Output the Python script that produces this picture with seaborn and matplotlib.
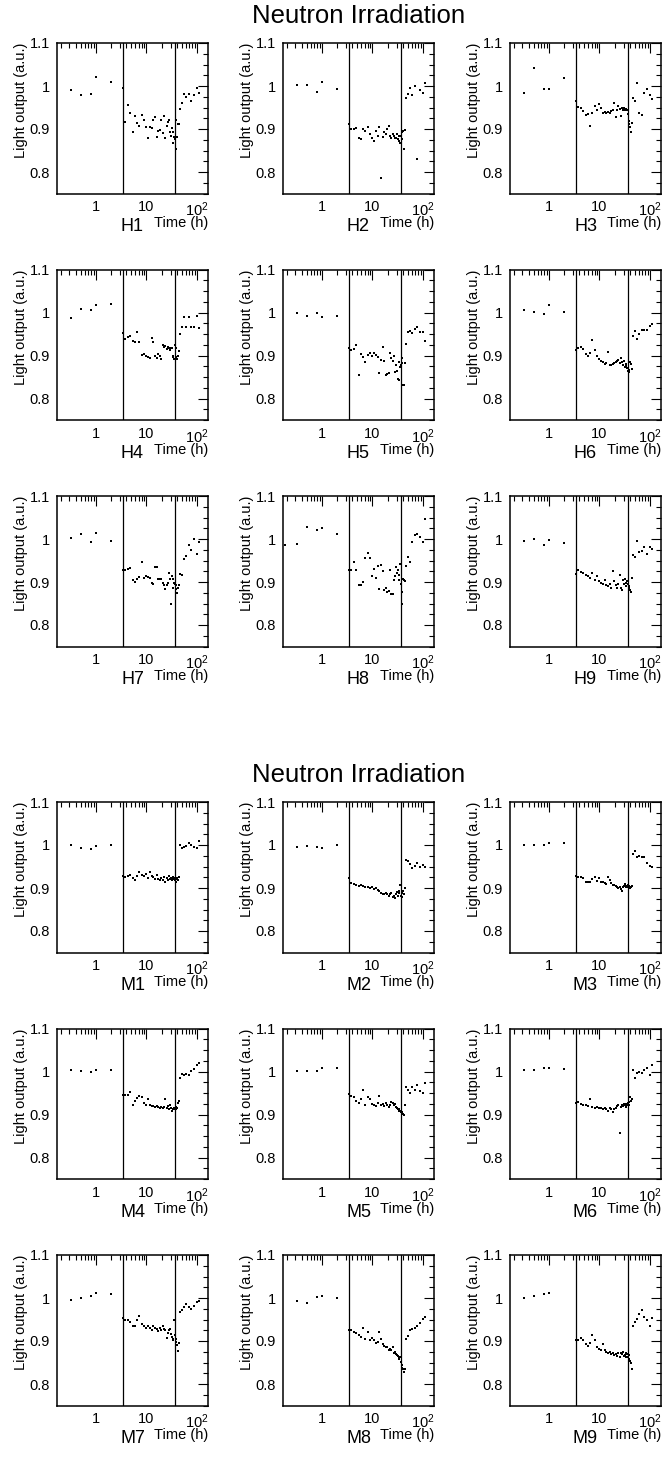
import numpy as np
import seaborn as sns
import matplotlib.pyplot as plt
from matplotlib.ticker import FixedLocator, LogLocator, MultipleLocator, NullFormatter

# ─────────────────────────────────────────
# 1. Data (light output vs time, normalised)
# ─────────────────────────────────────────
nan = np.nan

# measurement times (h): before, during, right after and long after irradiation
t_pre = [0.19, 0.32, 0.5, 0.8, 1.0, 2.0]
t_irr = [3.4, 3.8, 4.3, 4.8, 5.3, 5.9, 6.5, 7.2, 8.0, 8.8, 9.7, 10.6, 11.6, 12.6,
         13.7, 14.8, 16.0, 17.2, 18.5, 19.8, 21.1, 22.4, 23.7, 25.0, 26.3, 27.6,
         28.9, 30.2, 31.5, 32.8, 34.0, 35.3]
t_tail = [36.5, 37.7, 39.0, 40.5, 42.0, 43.5]
t_rec = [46, 50, 55, 61, 68, 76, 86, 98, 110]
hours = t_pre + t_irr + t_tail + t_rec

# start / end of irradiation (h)
irr_marks = [3.4, 36.0]

h1 = [nan, 0.99, 0.978, 0.982, 1.02, 1.01,
      0.995, 0.917, 0.955, 0.938, 0.893, 0.93, 0.913, 0.908, 0.933, 0.922, 0.905, 0.879, 0.905, 0.903, 0.921, 0.928,
      0.881, 0.895, 0.898, 0.921, 0.89, 0.931, 0.878, 0.907, 0.916, 0.922, 0.892, 0.884, 0.903, 0.892, 0.868, 0.882,
      0.876, 0.921, 0.853, 0.882, 0.911, 0.911,
      0.947, 0.961, 0.982, 0.975, 0.982, 0.966, 0.98, 0.995, 0.984]
h2 = [nan, 1.0015, 1.003, 0.986, 1.01, 0.992,
      0.912, 0.901, 0.9, 0.902, 0.878, 0.876, 0.899, 0.895, 0.905, 0.888, 0.88, 0.872, 0.895, 0.884, 0.905, 0.785,
      0.882, 0.893, 0.888, 0.899, 0.907, 0.884, 0.88, 0.888, 0.884, 0.878, 0.88, 0.888, 0.876, 0.872, 0.884, 0.868,
      0.884, 0.892, 0.876, 0.895, 0.853, 0.898,
      0.971, 0.982, 0.995, 0.98, 0.999, 0.83, 0.99, 0.984, 1.007]
h3 = [nan, 0.984, 1.042, 0.993, 0.993, 1.018,
      0.965, 0.951, 0.948, 0.942, 0.932, 0.934, 0.907, 0.938, 0.953, 0.945, 0.957, 0.949, 0.938, 0.939, 0.938, 0.939,
      0.938, 0.942, 0.944, 0.961, 0.928, 0.945, 0.953, 0.947, 0.93, 0.949, 0.945, 0.949, 0.945, 0.947, 0.944, 0.945,
      0.934, 0.918, 0.911, 0.905, 0.894, 0.915,
      0.972, 0.965, 1.008, 0.938, 0.932, 0.984, 0.993, 0.978, 0.97]
h4 = [nan, 0.987, 1.009, 1.006, 1.017, 1.02,
      0.952, 0.938, 0.944, 0.946, 0.934, 0.931, 0.954, 0.931, 0.902, 0.904, 0.9, 0.897, 0.894, 0.94, 0.932, 0.898,
      0.894, 0.904, 0.9, 0.893, 0.924, 0.92, 0.923, 0.915, 0.92, 0.917, 0.913, 0.918, 0.917, 0.897, 0.9, 0.893,
      0.924, 0.897, 0.917, 0.893, 0.9, 0.91,
      0.95, 0.966, 0.989, 0.966, 0.99, 0.967, 0.966, 0.991, 0.965]
h5 = [nan, 0.998, 0.992, 0.998, 0.99, 0.992,
      0.917, 0.913, 0.915, 0.925, 0.854, 0.904, 0.896, 0.885, 0.902, 0.906, 0.9, 0.906, 0.902, 0.896, 0.86, 0.89,
      0.919, 0.888, 0.855, 0.858, 0.859, 0.906, 0.894, 0.887, 0.9, 0.862, 0.878, 0.865, 0.846, 0.885, 0.844, 0.873,
      0.877, 0.895, 0.882, 0.831, 0.832, 0.882,
      0.927, 0.954, 0.958, 0.952, 0.961, 0.967, 0.954, 0.954, 0.933]
h6 = [nan, 1.006, 1.002, 0.996, 1.017, 1.002,
      0.912, 0.917, 0.919, 0.915, 0.904, 0.9, 0.905, 0.936, 0.912, 0.898, 0.892, 0.887, 0.885, 0.881, 0.882, 0.909,
      0.878, 0.879, 0.881, 0.882, 0.885, 0.887, 0.89, 0.882, 0.894, 0.885, 0.877, 0.888, 0.873, 0.881, 0.875, 0.872,
      0.864, 0.867, 0.862, 0.885, 0.881, 0.869,
      0.946, 0.958, 0.938, 0.95, 0.959, 0.959, 0.96, 0.969, 0.973]
h7 = [nan, 1.002, 1.012, 0.994, 1.015, 0.996,
      0.929, 0.929, 0.93, 0.933, 0.904, 0.9, 0.906, 0.912, 0.947, 0.909, 0.913, 0.912, 0.91, 0.898, 0.896, 0.935,
      0.934, 0.907, 0.906, 0.907, 0.898, 0.892, 0.883, 0.893, 0.898, 0.92, 0.907, 0.848, 0.915, 0.886, 0.906, 0.898,
      0.896, 0.892, 0.883, 0.875, 0.886, 0.892,
      0.919, 0.916, 0.954, 0.96, 0.987, 0.975, 1.0, 0.964, 0.993]
h8 = [0.985, 0.988, 1.029, 1.021, 1.025, 1.012,
      0.928, 0.928, 0.946, 0.927, 0.892, 0.892, 0.9, 0.956, 0.967, 0.956, 0.913, 0.931, 0.909, 0.938, 0.884, 0.94,
      0.925, 0.881, 0.885, 0.877, 0.878, 0.927, 0.873, 0.871, 0.904, 0.913, 0.936, 0.921, 0.928, 0.917, 0.904, 0.942,
      0.896, 0.85, 0.877, 0.908, 0.904, 0.902,
      0.938, 0.958, 0.946, 0.992, 1.01, 1.012, 1.004, 0.994, 1.046]
h9 = [nan, 0.995, 1.0, 0.985, 0.998, 0.99,
      0.918, 0.927, 0.923, 0.921, 0.917, 0.913, 0.91, 0.922, 0.905, 0.914, 0.902, 0.898, 0.895, 0.904, 0.892, 0.89,
      0.895, 0.887, 0.925, 0.902, 0.892, 0.887, 0.896, 0.917, 0.885, 0.881, 0.904, 0.895, 0.908, 0.898, 0.89, 0.902,
      0.895, 0.89, 0.885, 0.881, 0.877, 0.91,
      0.962, 0.958, 0.995, 0.969, 0.971, 0.982, 0.964, 0.982, 0.977]

m1 = [nan, 1.0, 0.994, 0.991, 0.998, 1.0,
      0.927, 0.925, 0.927, 0.931, 0.923, 0.919, 0.928, 0.938, 0.931, 0.928, 0.932, 0.923, 0.938, 0.927, 0.925, 0.921,
      0.931, 0.922, 0.919, 0.923, 0.918, 0.925, 0.915, 0.923, 0.918, 0.927, 0.921, 0.923, 0.918, 0.925, 0.921, 0.923,
      0.918, 0.921, 0.915, 0.923, 0.919, 0.925,
      1.0, 0.992, 0.996, 0.998, 1.004, 1.0, 0.995, 0.992, 1.01]
m2 = [nan, 0.996, 0.998, 0.996, 0.994, 1.0,
      0.923, 0.912, 0.909, 0.908, 0.905, 0.908, 0.905, 0.902, 0.903, 0.9, 0.902, 0.898, 0.9, 0.895, 0.892, 0.888,
      0.886, 0.885, 0.888, 0.885, 0.882, 0.885, 0.888, 0.88, 0.882, 0.876, 0.886, 0.89, 0.882, 0.888, 0.894, 0.907,
      0.882, 0.888, 0.878, 0.892, 0.886, 0.9,
      0.965, 0.962, 0.955, 0.946, 0.952, 0.959, 0.948, 0.954, 0.948]
m3 = [nan, 1.0, 1.0, 1.0, 1.004, 1.005,
      0.928, 0.926, 0.926, 0.923, 0.913, 0.913, 0.915, 0.921, 0.925, 0.917, 0.923, 0.915, 0.913, 0.911, 0.909, 0.925,
      0.918, 0.911, 0.907, 0.908, 0.905, 0.903, 0.9, 0.903, 0.898, 0.892, 0.902, 0.905, 0.909, 0.903, 0.905, 0.902,
      0.908, 0.902, 0.905, 0.9, 0.903, 0.905,
      0.98, 0.986, 0.971, 0.975, 0.971, 0.973, 0.957, 0.952, 0.948]
m4 = [nan, 1.004, 1.002, 0.998, 1.004, 1.004,
      0.945, 0.945, 0.945, 0.952, 0.923, 0.932, 0.938, 0.942, 0.94, 0.927, 0.922, 0.935, 0.922, 0.919, 0.92, 0.917,
      0.919, 0.917, 0.915, 0.917, 0.914, 0.917, 0.935, 0.915, 0.919, 0.912, 0.922, 0.915, 0.909, 0.913, 0.912, 0.915,
      0.913, 0.917, 0.912, 0.915, 0.927, 0.932,
      0.985, 0.994, 0.991, 0.994, 0.992, 1.002, 1.006, 1.015, 1.019]
m5 = [nan, 1.002, 1.002, 1.002, 1.008, 1.008,
      0.948, 0.942, 0.94, 0.932, 0.927, 0.935, 0.958, 0.923, 0.94, 0.935, 0.925, 0.923, 0.919, 0.927, 0.942, 0.922,
      0.925, 0.919, 0.927, 0.922, 0.917, 0.923, 0.929, 0.927, 0.922, 0.925, 0.917, 0.914, 0.912, 0.909, 0.912, 0.908,
      0.906, 0.904, 0.906, 0.902, 0.9, 0.923,
      0.965, 0.958, 0.95, 0.965, 0.958, 0.969, 0.955, 0.95, 0.973]
m6 = [nan, 1.004, 1.004, 1.009, 1.008, 1.006,
      0.927, 0.929, 0.925, 0.922, 0.923, 0.919, 0.935, 0.917, 0.915, 0.917, 0.914, 0.915, 0.912, 0.914, 0.912, 0.909,
      0.914, 0.912, 0.906, 0.912, 0.915, 0.919, 0.922, 0.858, 0.917, 0.923, 0.919, 0.925, 0.922, 0.917, 0.925, 0.922,
      0.927, 0.923, 0.929, 0.94, 0.932, 0.935,
      1.004, 0.986, 0.996, 1.0, 0.996, 1.004, 1.008, 0.992, 1.015]
m7 = [nan, 0.996, 1.0, 1.005, 1.011, 1.009,
      0.954, 0.949, 0.948, 0.944, 0.936, 0.934, 0.948, 0.959, 0.94, 0.936, 0.931, 0.934, 0.931, 0.926, 0.936, 0.931,
      0.928, 0.923, 0.931, 0.925, 0.934, 0.928, 0.926, 0.908, 0.918, 0.925, 0.928, 0.917, 0.909, 0.905, 0.902, 0.948,
      0.913, 0.905, 0.898, 0.89, 0.877, 0.895,
      0.967, 0.971, 0.978, 0.986, 0.978, 0.975, 0.982, 0.99, 0.994]
m8 = [nan, 0.994, 0.988, 1.003, 1.004, 0.999,
      0.926, 0.925, 0.921, 0.918, 0.913, 0.909, 0.931, 0.905, 0.922, 0.902, 0.908, 0.902, 0.895, 0.898, 0.921, 0.905,
      0.892, 0.888, 0.885, 0.886, 0.88, 0.882, 0.878, 0.885, 0.872, 0.875, 0.869, 0.867, 0.865, 0.863, 0.859, 0.862,
      0.852, 0.844, 0.838, 0.834, 0.828, 0.836,
      0.905, 0.911, 0.926, 0.929, 0.931, 0.934, 0.942, 0.952, 0.955]
m9 = [nan, 1.0, 1.005, 1.009, 1.012, nan,
      0.902, 0.903, 0.907, 0.902, 0.892, 0.888, 0.895, 0.915, 0.903, 0.885, 0.882, 0.88, 0.894, 0.878, 0.875, 0.872,
      0.875, 0.869, 0.871, 0.867, 0.869, 0.865, 0.871, 0.862, 0.872, 0.869, 0.875, 0.865, 0.867, 0.872, 0.862, 0.869,
      0.863, 0.867, 0.859, 0.854, 0.848, 0.834,
      0.934, 0.944, 0.952, 0.963, 0.972, 0.955, 0.948, 0.936, 0.954]

panel_names = ["H1", "H2", "H3", "H4", "H5", "H6", "H7", "H8", "H9",
               "M1", "M2", "M3", "M4", "M5", "M6", "M7", "M8", "M9"]
panel_data = [h1, h2, h3, h4, h5, h6, h7, h8, h9,
              m1, m2, m3, m4, m5, m6, m7, m8, m9]
group_title = "Neutron Irradiation"

# ─────────────────────────────────────────
# 2. Style
# ─────────────────────────────────────────
sns.set_style("white")
plt.rcParams['font.family'] = ['Liberation Sans', 'DejaVu Sans']
plt.rcParams['mathtext.fontset'] = 'custom'
plt.rcParams['mathtext.rm'] = 'Liberation Sans'
plt.rcParams['mathtext.it'] = 'Liberation Sans:italic'
plt.rcParams['text.color'] = 'black'
plt.rcParams['axes.labelcolor'] = 'black'
plt.rcParams['xtick.color'] = 'black'
plt.rcParams['ytick.color'] = 'black'

W, H = 665, 1458
fig = plt.figure(figsize=(W / 100, H / 100), dpi=100)

# frame geometry in pixels
col_left = [57, 283, 510]
row_top = [43, 269.5, 496, 802, 1028.5, 1255]
ax_w, ax_h = 151, 150.5

# ─────────────────────────────────────────
# 3. Panels
# ─────────────────────────────────────────
for i, (name, vals) in enumerate(zip(panel_names, panel_data)):
    grp = i // 9
    r = (i % 9) // 3 + 3 * grp
    c = i % 3
    left = col_left[c] / W
    bottom = 1 - (row_top[r] + ax_h) / H
    ax = fig.add_axes([left, bottom, ax_w / W, ax_h / H])

    sns.scatterplot(x=hours, y=vals, ax=ax, color='black', marker='s',
                    s=3, linewidth=0, legend=False)
    for t in irr_marks:
        ax.axvline(t, color='black', lw=0.9)

    ax.set_xscale('log')
    ax.set_xlim(0.17, 165)
    ax.set_ylim(0.75, 1.1)

    ax.xaxis.set_major_locator(FixedLocator([1, 10, 100]))
    ax.set_xticklabels(['1', '10', '$10^{2}$'])
    ax.xaxis.set_minor_locator(LogLocator(base=10, subs=range(2, 10), numticks=20))
    ax.xaxis.set_minor_formatter(NullFormatter())
    ax.yaxis.set_major_locator(FixedLocator([0.8, 0.9, 1.0, 1.1]))
    ax.set_yticklabels(['0.8', '0.9', '1', '1.1'])
    ax.yaxis.set_minor_locator(MultipleLocator(0.025))

    ax.tick_params(which='both', direction='in', top=True, right=True,
                   color='black', labelcolor='black')
    ax.tick_params(which='major', length=7, width=0.8, labelsize=10.5, pad=5)
    ax.tick_params(which='minor', length=3.5, width=0.8)
    for sp in ax.spines.values():
        sp.set_linewidth(1.1)
        sp.set_color('black')

    ax.set_xlabel('Time (h)', loc='right', fontsize=10.5)
    ax.xaxis.set_label_coords(1.0, -0.15)
    ax.set_ylabel('Light output (a.u.)', loc='top', fontsize=10.5)
    ax.yaxis.set_label_coords(-0.19, 1.0)

    ax.text(0.5, -0.165, name, transform=ax.transAxes, ha='center', va='top',
            fontsize=13)

for y_c in [16, 775]:
    fig.text(359 / W, 1 - y_c / H, group_title, ha='center', va='center',
             fontsize=18.5)

fig.savefig('out.png', dpi=100)
